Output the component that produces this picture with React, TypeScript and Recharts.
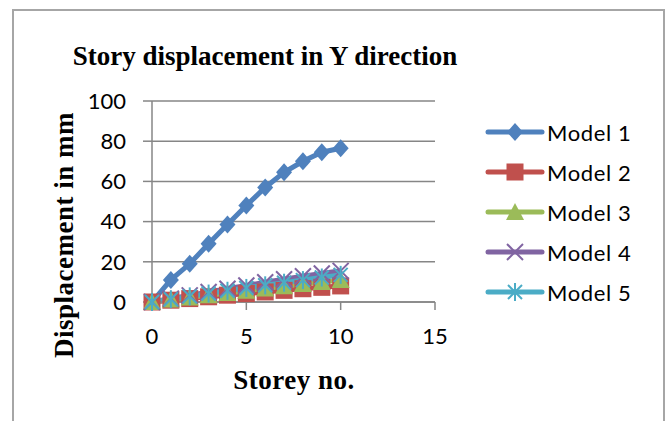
import React from 'react';
import { LineChart, Line, XAxis, YAxis, CartesianGrid } from 'recharts';

const storeys = [0, 1, 2, 3, 4, 5, 6, 7, 8, 9, 10];
const model1 = [0, 11, 19, 29, 38.5, 48, 57, 64.5, 70, 74.5, 76.5];
const model2 = [0, 0.9, 1.7, 2.6, 3.4, 4.2, 5, 5.8, 6.6, 7.3, 8];
const model3 = [0, 1.2, 2.3, 3.4, 4.5, 5.6, 6.7, 7.8, 8.9, 10, 11];
const model4 = [0, 1.7, 3.3, 5, 6.6, 8.2, 9.8, 11.3, 12.8, 14.2, 15.5];
const model5 = [0, 1.4, 2.8, 4.2, 5.6, 7, 8.3, 9.6, 10.9, 12.2, 13.5];

const seriesNames = ['Model 1', 'Model 2', 'Model 3', 'Model 4', 'Model 5'];
const seriesColors = ['#4F81BD', '#C0504D', '#9BBB59', '#8064A2', '#4BACC6'];
const seriesMarkers = ['diamond', 'square', 'triangle', 'cross', 'star'];
const xTicks = [0, 5, 10, 15];
const yTicks = [0, 20, 40, 60, 80, 100];

const allSeries = [model1, model2, model3, model4, model5];
const data = storeys.map((s, i) => {
  const row: Record<string, number> = { storey: s };
  allSeries.forEach((arr, k) => {
    row[`m${k + 1}`] = arr[i];
  });
  return row;
});

const Marker = ({ kind, cx, cy, color }: { kind: string; cx: number; cy: number; color: string }) => {
  if (kind === 'diamond') {
    return <polygon points={`${cx},${cy - 9} ${cx + 8},${cy} ${cx},${cy + 9} ${cx - 8},${cy}`} fill={color} />;
  }
  if (kind === 'square') {
    return <rect x={cx - 8.5} y={cy - 8.5} width={17} height={17} fill={color} />;
  }
  if (kind === 'triangle') {
    return <polygon points={`${cx},${cy - 9} ${cx + 9},${cy + 8} ${cx - 9},${cy + 8}`} fill={color} />;
  }
  if (kind === 'cross') {
    return (
      <g stroke={color} strokeWidth={2}>
        <line x1={cx - 8} y1={cy - 8} x2={cx + 8} y2={cy + 8} />
        <line x1={cx - 8} y1={cy + 8} x2={cx + 8} y2={cy - 8} />
      </g>
    );
  }
  // asterisk marker
  return (
    <g stroke={color} strokeWidth={2}>
      <line x1={cx - 7} y1={cy - 7} x2={cx + 7} y2={cy + 7} />
      <line x1={cx - 7} y1={cy + 7} x2={cx + 7} y2={cy - 7} />
      <line x1={cx} y1={cy - 9} x2={cx} y2={cy + 9} />
    </g>
  );
};

const serif = '"Liberation Serif", "DejaVu Serif", serif';
const sans = 'Lato, "Open Sans", sans-serif';

const App = () => {
  return (
    <div style={{ position: 'absolute', left: 0, top: 0, width: 668, height: 421, background: '#fff', overflow: 'hidden' }}>
      <div
        style={{
          position: 'absolute',
          left: 12,
          top: 9,
          width: 649,
          height: 440,
          border: '2px solid #a6a6a6',
        }}
      />
      <div
        style={{
          position: 'absolute',
          left: 265,
          top: 56,
          transform: 'translate(-50%, -50%)',
          whiteSpace: 'nowrap',
          fontFamily: serif,
          fontWeight: 'bold',
          fontSize: 27,
          color: '#000',
        }}
      >
        Story displacement in Y direction
      </div>
      <div
        style={{
          position: 'absolute',
          left: 64,
          top: 235,
          transform: 'translate(-50%, -50%) rotate(-90deg)',
          whiteSpace: 'nowrap',
          fontFamily: serif,
          fontWeight: 'bold',
          fontSize: 27,
          letterSpacing: 0.5,
          color: '#000',
        }}
      >
        Displacement in mm
      </div>
      <div
        style={{
          position: 'absolute',
          left: 294,
          top: 380,
          transform: 'translate(-50%, -50%)',
          whiteSpace: 'nowrap',
          fontFamily: serif,
          fontWeight: 'bold',
          fontSize: 27,
          letterSpacing: 0.5,
          color: '#000',
        }}
      >
        Storey no.
      </div>
      <div style={{ position: 'absolute', left: 0, top: 0 }}>
        <LineChart width={668} height={421} data={data} margin={{ top: 101, right: 233, bottom: 59, left: 52 }}>
          <CartesianGrid vertical={false} stroke="#868686" strokeWidth={1.5} />
          <XAxis
            dataKey="storey"
            type="number"
            domain={[0, 15]}
            ticks={xTicks}
            height={60}
            tickSize={8}
            tickMargin={18}
            axisLine={{ stroke: '#868686', strokeWidth: 1.5 }}
            tickLine={{ stroke: '#868686', strokeWidth: 1.5 }}
            tick={{ fill: '#000', fontSize: 22, fontFamily: sans }}
          />
          <YAxis
            type="number"
            domain={[0, 100]}
            ticks={yTicks}
            width={100}
            tickSize={9}
            tickMargin={17}
            axisLine={{ stroke: '#868686', strokeWidth: 1.5 }}
            tickLine={{ stroke: '#868686', strokeWidth: 1.5 }}
            tick={{ fill: '#000', fontSize: 22, fontFamily: sans }}
          />
          {seriesNames.map((name, k) => (
            <Line
              key={name}
              name={name}
              dataKey={`m${k + 1}`}
              type="linear"
              stroke={seriesColors[k]}
              strokeWidth={5}
              isAnimationActive={false}
              dot={(p: any) => (
                <Marker
                  key={`${name}-${p.index}`}
                  kind={seriesMarkers[k]}
                  cx={p.cx}
                  cy={p.cy}
                  color={seriesColors[k]}
                />
              )}
              activeDot={false}
            />
          ))}
        </LineChart>
      </div>
      <div style={{ position: 'absolute', left: 485, top: 112 }}>
        {seriesNames.map((name, k) => (
          <div key={name} style={{ display: 'flex', alignItems: 'center', height: 40 }}>
            <svg width={60} height={24}>
              <line x1={3} y1={12} x2={57} y2={12} stroke={seriesColors[k]} strokeWidth={5} strokeLinecap="round" />
              <Marker kind={seriesMarkers[k]} cx={30} cy={12} color={seriesColors[k]} />
            </svg>
            <span style={{ fontFamily: sans, fontSize: 22, letterSpacing: 0.6, color: '#000', marginLeft: 2 }}>{name}</span>
          </div>
        ))}
      </div>
    </div>
  );
};

export default App;
